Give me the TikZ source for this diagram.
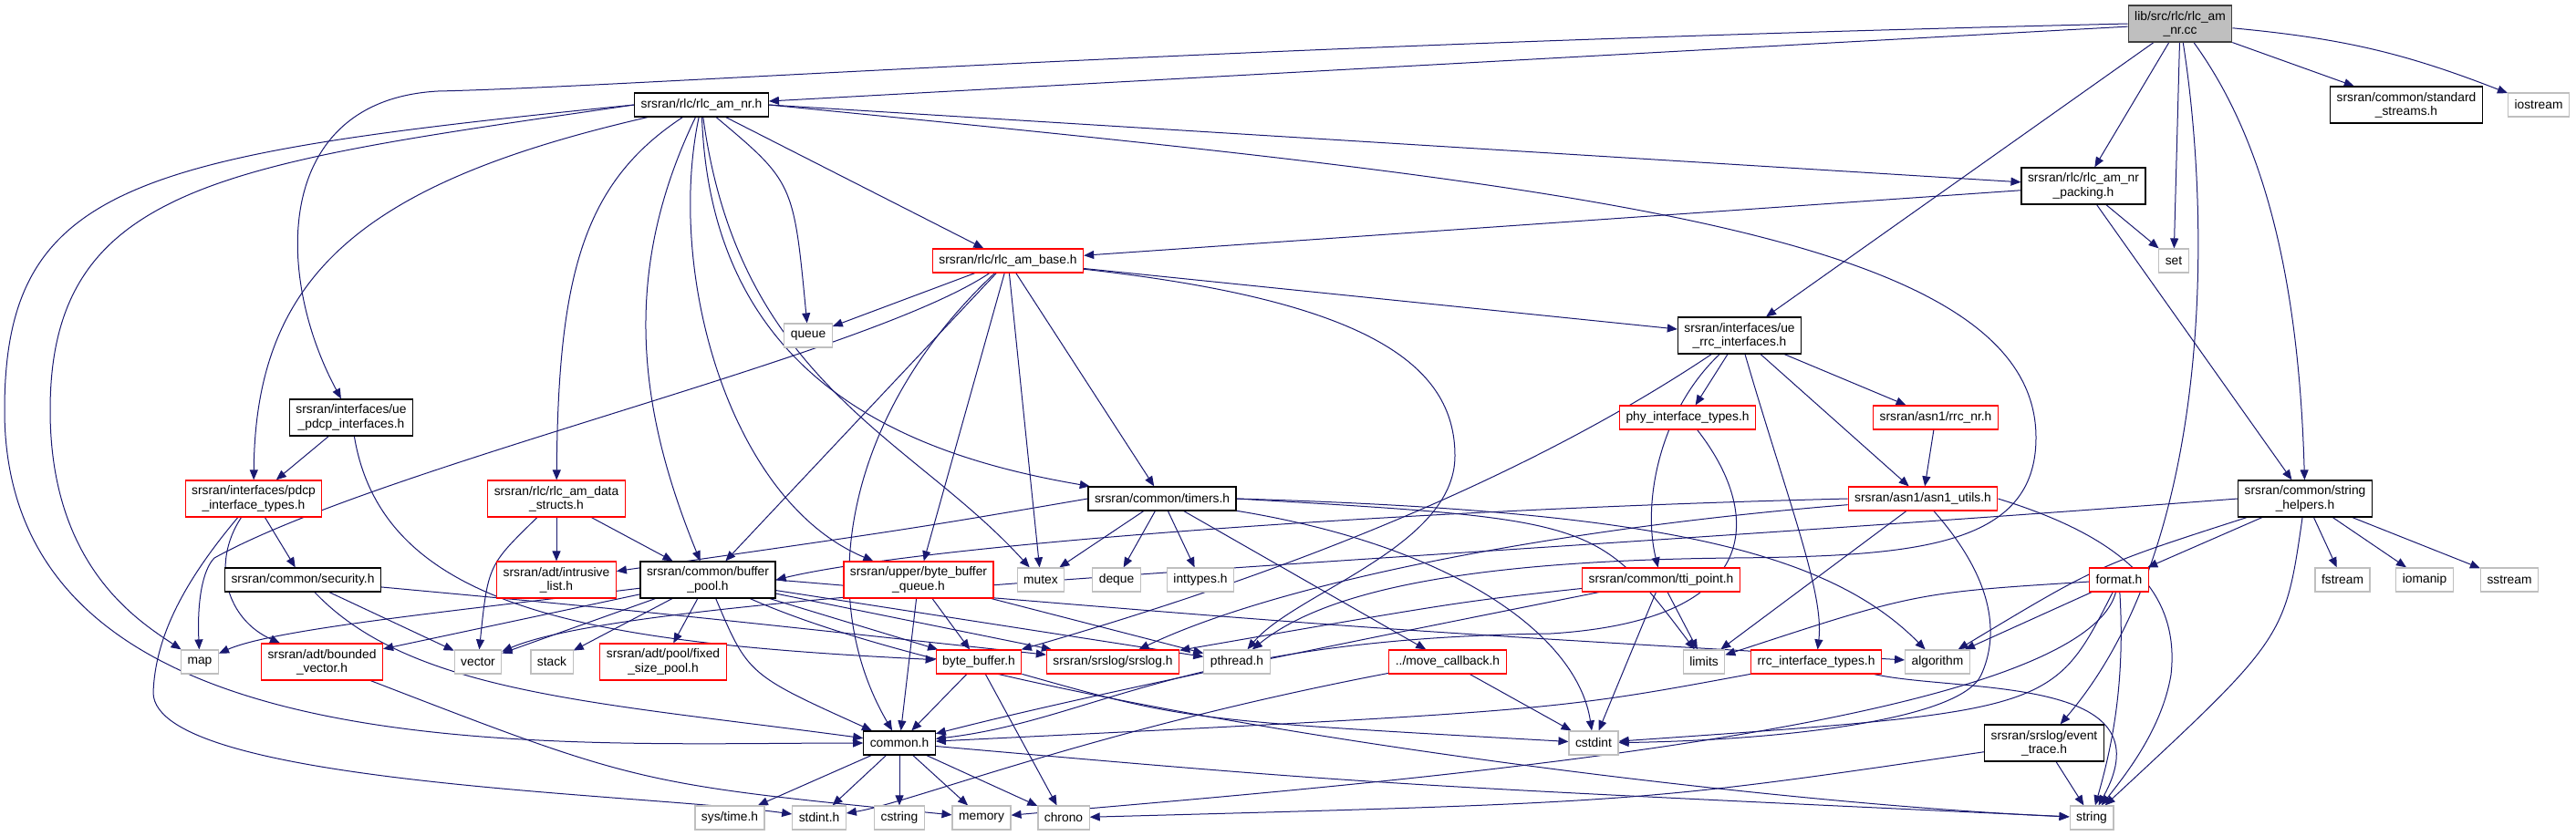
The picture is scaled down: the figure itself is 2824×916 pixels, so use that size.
\documentclass[tikz,border=0pt]{standalone}
\usepackage{fontspec}
\setmainfont{Liberation Sans}
\usetikzlibrary{arrows.meta}
\definecolor{edgeblue}{RGB}{25,25,112}
\definecolor{boxred}{RGB}{255,0,0}
\definecolor{sysgrey}{RGB}{191,191,191}
\pgfdeclarelayer{background}
\pgfsetlayers{background,main}
\newcommand{\doxfont}{\fontsize{6.9}{7.6}\selectfont}
\tikzset{
  inc/.style={draw=black, line width=0.6pt, fill=white, inner xsep=3.5pt, inner ysep=3pt, minimum height=13pt, align=center, font=\doxfont},
  incred/.style={inc, draw=boxred},
  incsys/.style={inc, draw=sysgrey},
  incroot/.style={inc, fill=sysgrey, draw=black!75},
  dep/.style={draw=edgeblue, line width=0.5pt, -{Triangle[length=5.5pt,width=4.5pt]}}
}

\begin{document}
\begin{tikzpicture}[x=0.5pt,y=-0.5pt]
\useasboundingbox (0,0) rectangle (2824,916);

\node[incroot] (cc) at (2390,26) {lib/src/rlc/rlc\_am\\\_nr.cc};
\node[inc] (stdstreams) at (2638,115) {srsran/common/standard\\\_streams.h};
\node[incsys] (iostream) at (2783,115) {iostream};
\node[inc] (am) at (769,115) {srsran/rlc/rlc\_am\_nr.h};
\node[inc] (packing) at (2284,204) {srsran/rlc/rlc\_am\_nr\\\_packing.h};
\node[incsys] (set) at (2383,286) {set};
\node[incred] (base) at (1105,286) {srsran/rlc/rlc\_am\_base.h};
\node[incsys] (queue) at (886,368) {queue};
\node[inc] (rrcif) at (1907,368) {srsran/interfaces/ue\\\_rrc\_interfaces.h};
\node[inc] (pdcpif) at (385,458) {srsran/interfaces/ue\\\_pdcp\_interfaces.h};
\node[incred] (phyif) at (1850,458) {phy\_interface\_types.h};
\node[incred] (rrcnr) at (2122,458) {srsran/asn1/rrc\_nr.h};
\node[incred] (pdcptypes) at (278,547) {srsran/interfaces/pdcp\\\_interface\_types.h};
\node[incred] (datastructs) at (610,547) {srsran/rlc/rlc\_am\_data\\\_structs.h};
\node[inc] (timers) at (1274,547) {srsran/common/timers.h};
\node[incred] (asnutils) at (2108,547) {srsran/asn1/asn1\_utils.h};
\node[inc] (strhelp) at (2527,547) {srsran/common/string\\\_helpers.h};
\node[inc] (security) at (332,636) {srsran/common/security.h};
\node[incred] (intrlist) at (610,636) {srsran/adt/intrusive\\\_list.h};
\node[inc] (bufpool) at (776,636) {srsran/common/buffer\\\_pool.h};
\node[incred] (bbqueue) at (1007,636) {srsran/upper/byte\_buffer\\\_queue.h};
\node[incsys] (mutex) at (1141,636) {mutex};
\node[incsys] (deque) at (1224,636) {deque};
\node[incsys] (inttypes) at (1316,636) {inttypes.h};
\node[incred] (ttipoint) at (1821,636) {srsran/common/tti\_point.h};
\node[incred] (format) at (2323,636) {format.h};
\node[incsys] (fstream) at (2568,636) {fstream};
\node[incsys] (iomanip) at (2658,636) {iomanip};
\node[incsys] (sstream) at (2751,636) {sstream};
\node[incsys] (map) at (219,726) {map};
\node[incred] (boundedvec) at (353,726) {srsran/adt/bounded\\\_vector.h};
\node[incsys] (vector) at (524,726) {vector};
\node[incsys] (stack) at (605,726) {stack};
\node[incred] (fixedpool) at (727,726) {srsran/adt/pool/fixed\\\_size\_pool.h};
\node[incred] (bytebuf) at (1073,726) {byte\_buffer.h};
\node[incred] (srslog) at (1220,726) {srsran/srslog/srslog.h};
\node[incsys] (pthread) at (1356,726) {pthread.h};
\node[incred] (movecb) at (1587,726) {../move\_callback.h};
\node[incsys] (limits) at (1868,726) {limits};
\node[incred] (rrctypes) at (1991,726) {rrc\_interface\_types.h};
\node[incsys] (algorithm) at (2124,726) {algorithm};
\node[inc] (common) at (986,815) {common.h};
\node[incsys] (cstdint) at (1747,815) {cstdint};
\node[inc] (evtrace) at (2241,815) {srsran/srslog/event\\\_trace.h};
\node[incsys] (systime) at (800,897) {sys/time.h};
\node[incsys] (stdint) at (898,897) {stdint.h};
\node[incsys] (cstring) at (986,897) {cstring};
\node[incsys] (memory) at (1076,897) {memory};
\node[incsys] (chrono) at (1166,897) {chrono};
\node[incsys] (string) at (2293,897) {string};

\begin{pgfonlayer}{background}
\draw[dep] (cc) -- (am);
\draw[dep] (cc.west) .. controls (1300,50) and (700,95) .. (480,100) .. controls (300,110) and (300,300) .. (pdcpif);
\draw[dep] (cc) -- (rrcif);
\draw[dep] (cc) -- (packing);
\draw[dep] (cc) -- (set);
\draw[dep] (cc) .. controls (2425,250) and (2425,600) .. (evtrace);
\draw[dep] (cc) .. controls (2480,150) and (2520,300) .. (strhelp);
\draw[dep] (cc) -- (stdstreams);
\draw[dep] (cc) to[bend left=8] (iostream);

\draw[dep] (am.west) .. controls (150,170) and (5,200) .. (5,450) .. controls (5,850) and (600,815) .. (common);
\draw[dep] (am.west) .. controls (250,180) and (55,200) .. (55,450) .. controls (55,620) and (150,680) .. (map);
\draw[dep] (am) .. controls (400,200) and (280,300) .. (pdcptypes);
\draw[dep] (am) .. controls (640,200) and (612,300) .. (datastructs);
\draw[dep] (am) .. controls (680,300) and (700,450) .. (bufpool);
\draw[dep] (am) .. controls (730,300) and (800,550) .. (bbqueue);
\draw[dep] (am) .. controls (780,420) and (1000,500) .. (timers);
\draw[dep] (am) .. controls (810,420) and (1000,480) .. (mutex);
\draw[dep] (am) .. controls (870,200) .. (queue);
\draw[dep] (am) -- (base);
\draw[dep] (am.east) -- (packing);
\draw[dep] (am.east) .. controls (1700,200) and (2232,250) .. (2232,480) .. controls (2232,600) and (2100,610) .. (1900,612) .. controls (1600,615) and (1450,650) .. (pthread);

\draw[dep] (packing) -- (base);
\draw[dep] (packing) -- (set);
\draw[dep] (packing) -- (strhelp);

\draw[dep] (base) -- (queue);
\draw[dep] (base) .. controls (950,390) and (420,510) .. (235,612) .. controls (222,625) and (216,660) .. (map);
\draw[dep] (base) -- (bufpool);
\draw[dep] (base) .. controls (930,450) and (890,650) .. (common);
\draw[dep] (base) -- (bbqueue);
\draw[dep] (base) -- (mutex);
\draw[dep] (base) -- (timers);
\draw[dep] (base) .. controls (1500,330) and (1595,400) .. (1595,500) .. controls (1595,600) and (1420,650) .. (pthread);
\draw[dep] (base) -- (rrcif);

\draw[dep] (pdcpif) -- (pdcptypes);
\draw[dep] (pdcpif) .. controls (420,670) and (650,705) .. (bytebuf);

\draw[dep] (pdcptypes) -- (security);
\draw[dep] (pdcptypes) .. controls (230,620) and (250,680) .. (boundedvec);
\draw[dep] (pdcptypes) .. controls (200,640) and (170,700) .. (168,760) .. controls (170,860) and (700,870) .. (stdint);

\draw[dep] (datastructs) -- (intrlist);
\draw[dep] (datastructs) -- (bufpool);
\draw[dep] (datastructs) .. controls (535,620) .. (vector);

\draw[dep] (security) .. controls (450,760) and (650,770) .. (common);
\draw[dep] (security) -- (vector);
\draw[dep] (security) .. controls (700,670) .. (srslog);

\draw[dep] (bufpool) .. controls (500,670) and (300,690) .. (map);
\draw[dep] (bufpool) -- (boundedvec);
\draw[dep] (bufpool) -- (vector);
\draw[dep] (bufpool) -- (stack);
\draw[dep] (bufpool) -- (fixedpool);
\draw[dep] (bufpool) .. controls (820,740) .. (common);
\draw[dep] (bufpool) -- (bytebuf);
\draw[dep] (bufpool) -- (srslog);
\draw[dep] (bufpool) -- (pthread);
\draw[dep] (bufpool.east) .. controls (1500,690) .. (algorithm);
\draw[dep] (bufpool) .. controls (1100,780) and (1900,880) .. (string);

\draw[dep] (bbqueue) -- (bytebuf);
\draw[dep] (bbqueue) -- (common);
\draw[dep] (bbqueue) -- (pthread);

\draw[dep] (bytebuf) -- (common);
\draw[dep] (bytebuf) -- (chrono);
\draw[dep] (bytebuf) .. controls (1300,790) .. (cstdint);

\draw[dep] (timers.west) .. controls (1000,580) .. (intrlist);
\draw[dep] (timers) -- (mutex);
\draw[dep] (timers) -- (deque);
\draw[dep] (timers) -- (inttypes);
\draw[dep] (timers) -- (movecb);
\draw[dep] (timers) .. controls (1600,600) and (1730,700) .. (cstdint);
\draw[dep] (timers.east) .. controls (1800,560) and (2000,600) .. (algorithm);
\draw[dep] (timers.east) .. controls (1750,570) .. (limits);

\draw[dep] (movecb) -- (cstdint);
\draw[dep] (movecb) .. controls (1200,800) and (1000,880) .. (stdint);

\draw[dep] (common) -- (systime);
\draw[dep] (common) -- (stdint);
\draw[dep] (common) -- (cstring);
\draw[dep] (common) -- (memory);
\draw[dep] (common) -- (chrono);
\draw[dep] (common) .. controls (1500,860) .. (string);

\draw[dep] (rrcif) -- (phyif);
\draw[dep] (rrcif) -- (rrcnr);
\draw[dep] (rrcif) -- (asnutils);
\draw[dep] (rrcif) .. controls (1820,450) and (1800,550) .. (ttipoint);
\draw[dep] (rrcif) .. controls (1960,550) and (2000,650) .. (rrctypes);
\draw[dep] (rrcif) .. controls (1620,560) and (1300,660) .. (bytebuf);

\draw[dep] (phyif) .. controls (1930,560) and (1940,680) .. (1700,695) .. controls (1300,700) and (1200,790) .. (common);
\draw[dep] (rrcnr) -- (asnutils);

\draw[dep] (asnutils.west) .. controls (1500,560) and (1000,600) .. (bufpool.east);
\draw[dep] (asnutils) .. controls (1700,580) and (1400,640) .. (srslog);
\draw[dep] (asnutils) -- (limits);
\draw[dep] (asnutils) .. controls (2190,640) and (2190,700) .. (2172,740) .. controls (2150,790) and (1950,812) .. (cstdint);
\draw[dep] (asnutils.east) .. controls (2330,590) and (2390,650) .. (2380,740) .. controls (2370,800) and (2330,850) .. (string);

\draw[dep] (ttipoint) .. controls (1600,660) .. (srslog);
\draw[dep] (ttipoint) .. controls (1500,700) and (1200,760) .. (common);
\draw[dep] (ttipoint) -- (limits);
\draw[dep] (ttipoint) -- (cstdint);

\draw[dep] (rrctypes) .. controls (1700,780) .. (common);
\draw[dep] (rrctypes) .. controls (2150,760) and (2380,740) .. (string);

\draw[dep] (strhelp) -- (format);
\draw[dep] (strhelp) .. controls (2300,620) .. (algorithm);
\draw[dep] (strhelp) -- (fstream);
\draw[dep] (strhelp) -- (iomanip);
\draw[dep] (strhelp) -- (sstream);
\draw[dep] (strhelp) .. controls (2505,700) .. (string);
\draw[dep] (strhelp.west) .. controls (1500,620) and (700,650) .. (vector);

\draw[dep] (format) .. controls (2100,650) .. (limits);
\draw[dep] (format) -- (algorithm);
\draw[dep] (format) .. controls (2250,780) .. (cstdint);
\draw[dep] (format) .. controls (2280,800) and (1500,860) .. (memory);
\draw[dep] (format) .. controls (2330,750) and (2315,820) .. (string);

\draw[dep] (boundedvec) .. controls (700,860) .. (memory);
\draw[dep] (evtrace) .. controls (1800,880) .. (chrono);
\draw[dep] (evtrace) -- (string);
\end{pgfonlayer}
\end{tikzpicture}
\end{document}
